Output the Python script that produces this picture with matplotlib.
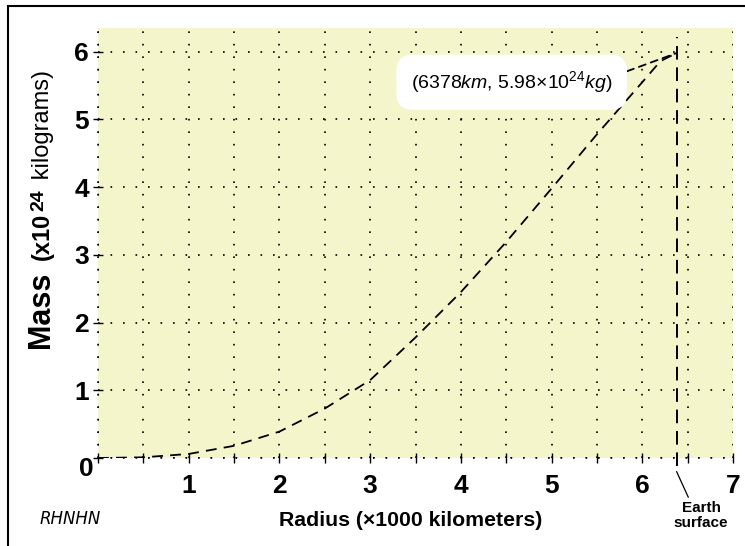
import matplotlib
matplotlib.use("Agg")
import matplotlib.pyplot as plt
from matplotlib.patches import Rectangle
from matplotlib.ticker import MultipleLocator

plt.rcParams['font.family'] = ['Liberation Sans', 'DejaVu Sans']
plt.rcParams['mathtext.fontset'] = 'custom'
plt.rcParams['mathtext.rm'] = 'Liberation Sans'
plt.rcParams['mathtext.it'] = 'Liberation Sans:italic'
plt.rcParams['mathtext.bf'] = 'Liberation Sans:bold'

# Data (radius in 1000 km, mass in 10^24 kg)
radius = [0, 0.5, 1, 1.5, 2, 2.5, 3, 3.5, 4, 4.5, 5, 5.5, 6, 6.2, 6.378]
mass = [0, 0.01, 0.06, 0.18, 0.39, 0.73, 1.15, 1.78, 2.45, 3.19, 3.98, 4.78, 5.55, 5.86, 5.98]
r_surface = 6.378
m_total = 5.98
xticks = [1, 2, 3, 4, 5, 6, 7]
yticks = [0, 1, 2, 3, 4, 5, 6]

W, H = 745, 546
fig = plt.figure(figsize=(W / 100, H / 100), dpi=100)
fig.patch.set_facecolor('white')

ax = fig.add_axes([98 / W, 88 / H, (733 - 98) / W, (458 - 28) / H])
ax.set_facecolor('#F5F5CC')
ax.set_xlim(0, 7)
ax.set_ylim(0, 6.35)
for s in ax.spines.values():
    s.set_visible(False)

grid_style = dict(color='black', linewidth=1.2, linestyle=(0, (1, 6.5)))
ax.xaxis.set_minor_locator(MultipleLocator(0.5))
ax.set_xticks(xticks)
ax.set_yticks(yticks)
ax.set_xticklabels([str(t) for t in xticks])
ax.set_yticklabels(['' if t == 0 else str(t) for t in yticks])
ax.grid(True, which='both', axis='x', **grid_style)
ax.grid(True, which='major', axis='y', **grid_style)
ax.axvline(0, **grid_style, clip_on=False)
ax.axhline(0, **grid_style, clip_on=False)
ax.set_axisbelow(False)

ax.tick_params(axis='x', which='both', direction='inout', length=7, width=1,
               pad=8, labelsize=19)
ax.tick_params(axis='y', which='major', direction='inout', length=7, width=1,
               pad=3, labelsize=19)
for lab in ax.get_xticklabels() + ax.get_yticklabels():
    lab.set_fontweight('bold')

zero = ax.text(-0.05, -0.16, '0', fontsize=19, fontweight='bold',
               ha='right', va='center')

# curve
ax.plot(radius, mass, color='black', linewidth=1.3, linestyle=(0, (6, 4)))
# Earth surface line
ax.plot([r_surface, r_surface], [-0.12, 6.22], color='black', linewidth=1.4,
        linestyle=(0, (7, 4)), clip_on=False)

# annotation
ax.annotate(r'(6378$\it{km}$, 5.98$\times$10$^{24}$$\it{kg}$)',
            xy=(r_surface, m_total), xytext=(4.56, 5.55),
            fontsize=14, ha='center', va='center',
            bbox=dict(boxstyle='round,pad=0.75,rounding_size=0.85',
                      fc='white', ec='none'),
            arrowprops=dict(arrowstyle='-', color='black', linewidth=1.3,
                            linestyle=(0, (4, 3)), shrinkA=0, shrinkB=0,
                            relpos=(0.96, 0.6)))

# Earth surface label
ax.annotate('Earth\nsurface', xy=(r_surface, -0.2), xytext=(r_surface + 0.27, -0.64),
            fontsize=11, fontweight='bold', ha='center', va='top',
            linespacing=1.05, annotation_clip=False,
            arrowprops=dict(arrowstyle='-', color='black', linewidth=0.9,
                            shrinkA=1, shrinkB=0, relpos=(0.3, 1.0)))

# x label
fig.text(411 / W, 1 - 521 / H, 'Radius (×1000 kilometers)', fontsize=15.3,
         fontweight='bold', ha='center', va='center')

# y label pieces, stacked bottom to top
t1 = fig.text(41 / W, 1 - 348 / H, 'Mass', fontsize=22, fontweight='bold',
              rotation=90, ha='center', va='bottom')
t2 = ax.annotate('(x10', xycoords=t1, xy=(0.92, 1), xytext=(0, 12),
                 textcoords='offset pixels', fontsize=17, fontweight='bold',
                 rotation=90, ha='right', va='bottom')
t3 = ax.annotate('24', xycoords=t2, xy=(0, 1), xytext=(0, 1),
                 textcoords='offset pixels', fontsize=14, fontweight='bold',
                 rotation=90, ha='left', va='bottom')
t4 = ax.annotate(' kilograms)', xycoords=t2, xy=(1, 1), xytext=(0, 26),
                 textcoords='offset pixels', fontsize=17,
                 rotation=90, ha='right', va='bottom')

# logo
fig.text(70 / W, 1 - 519 / H, 'RHNHN', fontsize=12, style='italic',
         ha='center', va='center', family='DejaVu Sans')

# frame
fig.add_artist(Rectangle((8 / W, -0.05), 1.2, (H - 6) / H + 0.05,
                         transform=fig.transFigure, fill=False,
                         edgecolor='black', linewidth=1.5))

fig.savefig('out.png', dpi=100)
